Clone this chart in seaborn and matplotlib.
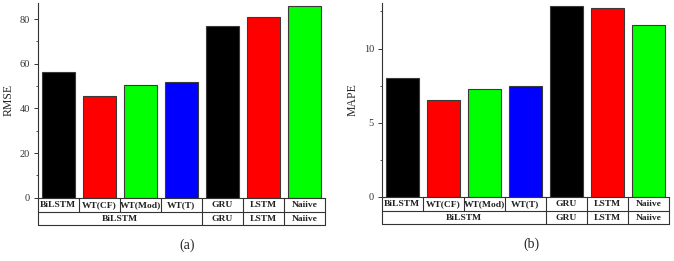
import numpy as np
import pandas as pd
import matplotlib
matplotlib.use('Agg')
import matplotlib.pyplot as plt
import matplotlib.transforms as mtransforms
from matplotlib.ticker import MultipleLocator
import seaborn as sns

# data
models = ['BiLSTM', 'WT(CF)', 'WT(Mod)', 'WT(T)', 'GRU', 'LSTM', 'Naiive']
groups = ['BiLSTM', 'BiLSTM', 'BiLSTM', 'BiLSTM', 'GRU', 'LSTM', 'Naiive']
rmse = [56.1, 45.7, 50.3, 51.8, 77.0, 80.9, 85.8]
mape = [8.02, 6.50, 7.28, 7.48, 12.88, 12.72, 11.58]
colors = ['#000000', '#ff0000', '#00ff00', '#0000ff', '#000000', '#ff0000', '#00ff00']

sns.set_style('ticks')
plt.rcParams['font.family'] = ['Liberation Serif', 'DejaVu Serif']

W, H = 674, 261
fig = plt.figure(figsize=(W / 100, H / 100), dpi=100)

# 축 위치 (pixel -> figure fraction)
def px_axes(x0, x1, ytop, y0):
    return fig.add_axes([x0 / W, 1 - y0 / H, (x1 - x0) / W, (y0 - ytop) / H])

ax1 = px_axes(37.7, 325, 3, 197.7)
ax2 = px_axes(381.7, 669, 3.3, 196.7)


def draw_panel(ax, vals, ylabel, ymax, major, minor, tag, h_px):
    df = pd.DataFrame({'model': models, 'val': vals})
    sns.barplot(data=df, x='model', y='val', hue='model', palette=colors,
                legend=False, ax=ax, width=0.8, saturation=1,
                edgecolor='#3a3a3a', linewidth=0.8)
    ax.set_xlim(-0.5, len(models) - 0.5)
    ax.set_ylim(0, ymax)
    ax.yaxis.set_major_locator(MultipleLocator(major))
    ax.yaxis.set_minor_locator(MultipleLocator(minor))
    ax.tick_params(axis='y', which='major', direction='out', length=3, width=0.7,
                   labelsize=7.5, pad=2.5, colors='#333333')
    ax.tick_params(axis='y', which='minor', direction='out', length=1.6, width=0.6,
                   colors='#333333')
    ax.tick_params(axis='x', length=0, labelbottom=False)
    ax.set_xlabel('')
    ax.set_ylabel(ylabel, fontsize=8.5, labelpad=4)
    sns.despine(ax=ax)
    for s in ['left', 'bottom']:
        ax.spines[s].set_linewidth(0.8)
        ax.spines[s].set_color('#333333')

    # 아래 표
    tr = mtransforms.blended_transform_factory(ax.transData, ax.transAxes)
    r1 = -14.3 / h_px
    r2 = -27.6 / h_px
    lw = 0.8
    lc = '#333333'
    n = len(models)
    for yy in [r1, r2]:
        ax.plot([-0.5, n - 0.5], [yy, yy], transform=tr, color=lc, lw=lw, clip_on=False)
    for i in range(n + 1):
        ax.plot([i - 0.5, i - 0.5], [0, r1], transform=tr, color=lc, lw=lw, clip_on=False)
    for i, m in enumerate(models):
        ax.text(i, r1 / 2, m, transform=tr, ha='center', va='center',
                fontsize=6.8, fontweight='bold', color='#222222')
    # group row
    edges = [0]
    for i in range(1, n):
        if groups[i] != groups[i - 1]:
            edges.append(i)
    edges.append(n)
    for e in edges:
        ax.plot([e - 0.5, e - 0.5], [r1, r2], transform=tr, color=lc, lw=lw, clip_on=False)
    for a, b in zip(edges[:-1], edges[1:]):
        ax.text((a + b - 1) / 2, (r1 + r2) / 2, groups[a], transform=tr,
                ha='center', va='center', fontsize=6.8, fontweight='bold',
                color='#222222')
    ax.text(0.52, -48 / h_px, tag, transform=ax.transAxes, ha='center',
            va='center', fontsize=10)


draw_panel(ax1, rmse, 'RMSE', 87.2, 20, 10, '(a)', 194.7)
draw_panel(ax2, mape, 'MAPE', 13.05, 5, 2.5, '(b)', 193.4)

plt.savefig('out.png', dpi=100)
